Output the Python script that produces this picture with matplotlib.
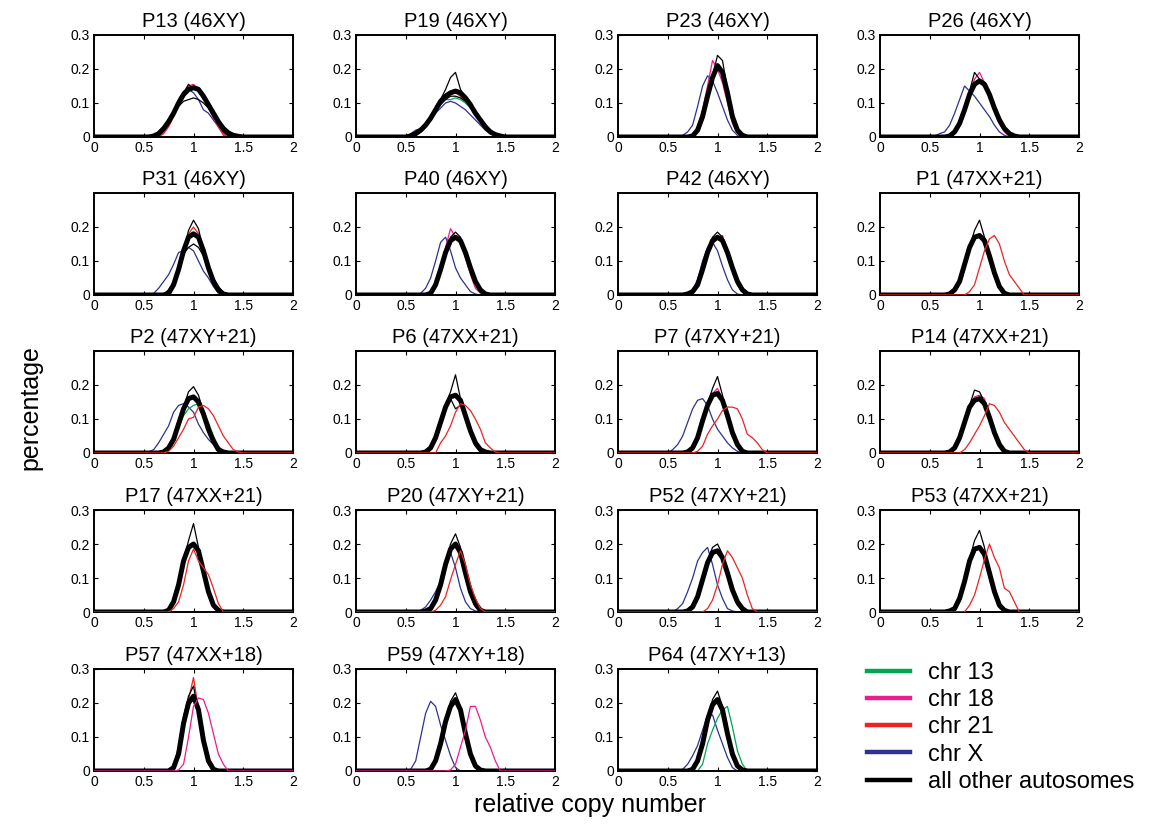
import matplotlib
matplotlib.use("Agg")
import matplotlib.pyplot as plt
from matplotlib.lines import Line2D

plt.rcParams['font.family'] = ['Liberation Sans', 'DejaVu Sans']

# bin centres of the copy-number histograms (values outside are zero)
XGRID = [0.50, 0.55, 0.60, 0.65, 0.70, 0.75, 0.80, 0.85, 0.90, 0.95, 1.00,
         1.05, 1.10, 1.15, 1.20, 1.25, 1.30, 1.35, 1.40, 1.45, 1.50]

TITLES = ["P13 (46XY)", "P19 (46XY)", "P23 (46XY)", "P26 (46XY)",
          "P31 (46XY)", "P40 (46XY)", "P42 (46XY)", "P1 (47XX+21)",
          "P2 (47XY+21)", "P6 (47XX+21)", "P7 (47XY+21)", "P14 (47XX+21)",
          "P17 (47XX+21)", "P20 (47XY+21)", "P52 (47XY+21)", "P53 (47XX+21)",
          "P57 (47XX+18)", "P59 (47XY+18)", "P64 (47XY+13)"]

# values in units of 0.01 (percentage per bin)
AUTO_MAIN = [
    [0, 0, 0.3, 1, 2.5, 4.5, 7, 10, 12.5, 14, 14.5, 14, 12, 9.5, 7, 4.5, 2.5, 1.2, 0.5, 0.2, 0],
    [0, 0.3, 1, 2, 3.5, 5.5, 8, 10.5, 12, 13, 13.5, 13, 11.5, 9.5, 7, 5, 3, 1.5, 0.7, 0.3, 0],
    [0, 0, 0, 0, 0, 0.3, 2, 6, 12, 17.5, 21, 19, 13, 6, 2, 0.5, 0, 0, 0, 0, 0],
    [0, 0, 0, 0, 0.3, 1.5, 4, 8, 12.5, 15.5, 16.5, 15.5, 12.5, 8.5, 5, 2.5, 1, 0.3, 0, 0, 0],
    [0, 0, 0, 0, 0, 0.5, 3, 7.5, 13, 17, 18, 17, 13, 8, 4, 1.5, 0.3, 0, 0, 0, 0],
    [0, 0, 0, 0, 0, 0.5, 3, 7.5, 12.5, 16, 17, 16, 12.5, 8, 4, 1.5, 0.3, 0, 0, 0, 0],
    [0, 0, 0, 0, 0.3, 1, 3, 7.5, 12.5, 16, 17, 16, 12.5, 8, 4, 1.5, 0.3, 0, 0, 0, 0],
    [0, 0, 0, 0, 0.3, 1.5, 4, 9, 14, 17, 17.5, 16, 11.5, 6.5, 2.5, 0.5, 0, 0, 0, 0, 0],
    [0, 0, 0, 0, 0.3, 1.5, 4, 8.5, 13, 16, 16.5, 15, 11.5, 7, 3.5, 1, 0.3, 0, 0, 0, 0],
    [0, 0, 0, 0, 0.3, 1.5, 4.5, 9, 13.5, 16.5, 17, 15.5, 11, 6.5, 3, 1, 0.3, 0, 0, 0, 0],
    [0, 0, 0, 0, 0.3, 1.5, 4.5, 9.5, 14, 17, 17.5, 15.5, 11, 6, 2.5, 0.5, 0, 0, 0, 0, 0],
    [0, 0, 0, 0, 0.3, 1.5, 4.5, 9, 13.5, 15.5, 16, 14.5, 10.5, 6, 2.5, 0.5, 0, 0, 0, 0, 0],
    [0, 0, 0, 0, 0, 0.5, 3, 8, 15, 19, 20, 18, 12, 6, 2, 0.5, 0, 0, 0, 0, 0],
    [0, 0, 0, 0, 0.3, 1, 3.5, 8, 14, 18.5, 20, 17.5, 11.5, 6, 2.5, 0.5, 0, 0, 0, 0, 0],
    [0, 0, 0, 0, 0.3, 1.5, 4.5, 9.5, 14.5, 17.5, 18, 16, 11.5, 6.5, 3, 1, 0, 0, 0, 0, 0],
    [0, 0, 0, 0, 0.3, 1, 4, 9, 15, 18.5, 19, 17, 11.5, 6, 2, 0.5, 0, 0, 0, 0, 0],
    [0, 0, 0, 0, 0, 0, 1, 5, 14, 20, 22, 18, 9, 3, 0.5, 0, 0, 0, 0, 0, 0],
    [0, 0, 0, 0, 0, 0.5, 3, 8, 14.5, 19, 21, 18, 11, 5, 1.5, 0.3, 0, 0, 0, 0, 0],
    [0, 0, 0, 0, 0, 0.5, 3, 8, 15, 19.5, 21, 18, 11, 5, 1.5, 0.3, 0, 0, 0, 0, 0],
]

AUTO_HIGH = [
    [0, 0, 0, 0.5, 2, 4, 7, 10.5, 13, 15.5, 14, 14.5, 12, 9, 6, 3.5, 1.5, 0.5, 0, 0, 0],
    [0, 0, 0.5, 1.5, 3, 5, 8, 11, 14, 17.5, 19, 14, 11, 9, 6.5, 4.5, 2.5, 1, 0.3, 0, 0],
    [0, 0, 0, 0, 0, 0, 1.5, 5.5, 11.5, 18, 24, 22.5, 14, 6, 1.5, 0, 0, 0, 0, 0, 0],
    [0, 0, 0, 0, 0, 1, 3.5, 8, 13.5, 19, 17, 16, 12, 8, 4.5, 2, 0.5, 0, 0, 0, 0],
    [0, 0, 0, 0, 0, 0.3, 2.5, 7, 13, 19, 22, 19.5, 13, 7, 3, 1, 0, 0, 0, 0, 0],
    [0, 0, 0, 0, 0, 0.3, 2.5, 7, 12.5, 17, 18.5, 17, 13, 7.5, 3.5, 1, 0, 0, 0, 0, 0],
    [0, 0, 0, 0, 0, 0.5, 2.5, 7, 13, 17, 18.5, 17, 12, 7, 3, 1, 0, 0, 0, 0, 0],
    [0, 0, 0, 0, 0, 1, 3.5, 8.5, 14, 19, 22, 17, 11, 5.5, 2, 0.5, 0, 0, 0, 0, 0],
    [0, 0, 0, 0, 0, 1, 3.5, 8, 13.5, 18, 19.5, 17, 12, 7, 3, 1, 0, 0, 0, 0, 0],
    [0, 0, 0, 0, 0, 1, 4, 8.5, 14, 18, 23, 16, 10, 5.5, 2, 0.5, 0, 0, 0, 0, 0],
    [0, 0, 0, 0, 0, 1, 4, 9, 14.5, 19, 22.5, 17, 11, 5.5, 2, 0.5, 0, 0, 0, 0, 0],
    [0, 0, 0, 0, 0, 1, 4, 9, 14, 18.5, 18, 15, 10, 5.5, 2, 0.5, 0, 0, 0, 0, 0],
    [0, 0, 0, 0, 0, 0.3, 2.5, 8, 15, 21, 26, 19, 11, 5, 1.5, 0, 0, 0, 0, 0, 0],
    [0, 0, 0, 0, 0, 0.5, 3, 7.5, 14, 20, 23, 19, 11, 5, 1.5, 0, 0, 0, 0, 0, 0],
    [0, 0, 0, 0, 0, 1, 4, 9, 15, 19, 20, 17, 11, 6, 2, 0.5, 0, 0, 0, 0, 0],
    [0, 0, 0, 0, 0, 0.5, 3, 8.5, 15.5, 21, 24, 19, 11, 5, 1.5, 0, 0, 0, 0, 0, 0],
    [0, 0, 0, 0, 0, 0, 1.5, 7, 16, 22, 25, 17, 8, 2, 0.3, 0, 0, 0, 0, 0, 0],
    [0, 0, 0, 0, 0, 0.3, 2.5, 7.5, 15, 20.5, 23, 19, 10, 4, 1, 0, 0, 0, 0, 0, 0],
    [0, 0, 0, 0, 0, 0.3, 2.5, 7.5, 15, 21, 23.5, 19, 10, 4, 1, 0, 0, 0, 0, 0, 0],
]

AUTO_LOW = [
    [0, 0, 0.5, 1.5, 3, 5, 7, 9, 10.5, 11, 11.5, 11, 10, 8.5, 6.5, 4.5, 3, 1.5, 0.5, 0, 0],
    [0, 0.5, 1.5, 2.5, 4, 6, 8, 9.5, 11, 12, 12, 11.5, 10.5, 9, 7.5, 5.5, 3.5, 2, 1, 0.3, 0],
    None, None,
    [0, 0, 0, 0, 0.3, 1.5, 4, 8, 12, 14, 15, 14, 11.5, 8, 5, 2.5, 0.8, 0, 0, 0, 0],
    None, None, None, None,
    [0, 0, 0, 0, 0, 1, 4, 9, 14, 16, 13, 14, 11.5, 7, 3, 1, 0, 0, 0, 0, 0],
    None, None, None, None, None, None, None, None, None,
]

CHR_X = [
    [0, 0, 0, 0.5, 2, 4.5, 7.5, 11, 13.5, 14, 13, 11, 8, 7, 5, 3, 1, 0.3, 0, 0, 0],
    [0.3, 1, 2, 2.5, 3.5, 5, 7, 8.5, 10, 10.5, 10, 9, 8, 6.5, 5, 3.5, 2, 1, 0.5, 0.2, 0],
    [0, 0, 0, 0.5, 1.5, 3.5, 9, 15, 18, 16.5, 13, 9, 5, 2, 0.5, 0, 0, 0, 0, 0, 0],
    [0, 0.3, 1, 1.5, 3.5, 7, 11, 15, 13.5, 12, 10, 8, 6, 3.5, 1.5, 0.5, 0, 0, 0, 0, 0],
    [0, 0, 0.5, 2, 4, 6, 9, 12.5, 13, 14, 13, 10, 7, 5, 2.5, 0.5, 0, 0, 0, 0, 0],
    [0, 0, 0, 0.5, 2, 5, 10, 15.5, 17, 13, 8, 5, 3, 1, 0.3, 0, 0, 0, 0, 0, 0],
    [0, 0, 0, 0, 0.5, 1.5, 4.5, 10, 14, 15.5, 13, 8.5, 4.5, 1.5, 0.3, 0, 0, 0, 0, 0, 0],
    None,
    [0, 0.3, 1, 3, 5.5, 8, 12, 14, 14.5, 13.5, 12, 8.5, 6, 4, 2.5, 1, 0.3, 0, 0, 0, 0],
    None,
    [0, 1, 2.5, 5, 9, 13, 15.5, 16, 14, 10, 7, 5, 3, 1.5, 0.5, 0, 0, 0, 0, 0, 0],
    None, None,
    [0, 0, 0, 0.5, 1.5, 3.5, 6, 9, 14, 17.5, 13, 7, 3, 1, 0.3, 0, 0, 0, 0, 0, 0],
    [0, 0, 1, 2.5, 6, 10, 15, 17.5, 19, 14, 8, 4, 1, 0.3, 0, 0, 0, 0, 0, 0, 0],
    None, None,
    [0, 0.5, 3, 10, 17, 20.5, 19, 13.5, 9, 4.5, 1, 0, 0, 0, 0, 0, 0, 0, 0, 0, 0],
    [0, 0, 0, 0.5, 2, 4.5, 7.5, 12, 16.5, 16.5, 12, 8, 4, 1, 0, 0, 0, 0, 0, 0, 0],
]

CHR13 = [None] * 19
CHR13[1] = [0, 0, 0.5, 1.5, 3, 5, 7.5, 10, 11, 11, 11.5, 11, 10, 8.5, 7, 5, 3, 2, 1, 0.3, 0]
CHR13[7] = [0, 0, 0, 0, 0, 1.5, 4.5, 10, 14, 16.5, 17, 15.5, 11, 6, 2, 0.5, 0, 0, 0, 0, 0]
CHR13[8] = [0, 0, 0, 0, 0, 1.5, 4, 8, 11, 13, 14, 14.5, 12, 9, 5, 2, 0.5, 0, 0, 0, 0]
CHR13[15] = [0, 0, 0, 0, 0.3, 1.5, 5, 10, 15, 18, 18.5, 16, 11, 5.5, 2, 0.5, 0, 0, 0, 0, 0]
CHR13[18] = [0, 0, 0, 0, 0, 0, 0, 2, 8, 12, 15.5, 18, 19, 13, 6, 2, 0, 0, 0, 0, 0]

CHR18 = [None] * 19
CHR18[0] = [0, 0, 0, 0, 1.5, 3.5, 6.5, 10, 13, 15, 15.5, 14, 11.5, 8.5, 5.5, 3, 1, 0, 0, 0, 0]
CHR18[2] = [0, 0, 0, 0, 0, 0.5, 3, 8, 15, 22.5, 20, 16, 10, 4, 1, 0, 0, 0, 0, 0, 0]
CHR18[3] = [0, 0, 0, 0, 0, 1, 3.5, 8, 13, 17, 19, 16, 12, 8, 4, 1.5, 0.3, 0, 0, 0, 0]
CHR18[5] = [0, 0, 0, 0, 0, 0.5, 3, 8, 14, 19.5, 17, 15, 11, 6, 2, 0.5, 0, 0, 0, 0, 0]
CHR18[10] = [0, 0, 0, 0, 0, 1, 4, 9, 14, 17.5, 19, 16, 11, 6, 2.5, 0.5, 0, 0, 0, 0, 0]
CHR18[11] = [0, 0, 0, 0, 0, 1, 4, 9, 14, 16.5, 17, 16, 11, 6, 2.5, 0.5, 0, 0, 0, 0, 0]
CHR18[16] = [0, 0, 0, 0, 0, 0, 0, 0.3, 2, 10, 19, 21.5, 21, 17, 11, 5, 2, 0, 0, 0, 0]
CHR18[17] = [0, 0, 0, 0, 0, 0, 0, 0, 0, 0.3, 2, 7, 12, 19, 19, 15, 10, 7, 3, 0, 0]

CHR21 = [None] * 19
CHR21[0] = [0, 0, 0, 0, 1, 3, 6, 9.5, 12.5, 14.5, 15, 14.5, 12, 9, 6, 3, 0.5, 0, 0, 0, 0]
CHR21[1] = [0, 0, 0.5, 1.5, 3, 5, 7.5, 10, 11.5, 12.5, 13, 12, 10.5, 9, 8, 5.5, 3, 1.5, 0.5, 0, 0]
CHR21[4] = [0, 0, 0, 0, 0, 0.3, 2.5, 7, 13, 18, 20, 18, 13, 7, 3, 0.5, 0, 0, 0, 0, 0]
CHR21[6] = [0, 0, 0, 0, 0, 0.5, 2.5, 7, 12, 15, 16.5, 17.5, 13, 8, 4, 1, 0, 0, 0, 0, 0]
CHR21[7] = [0, 0, 0, 0, 0, 0, 0, 0, 1, 3, 8, 13, 16.5, 17.5, 15, 10, 6, 4, 2, 0, 0]
CHR21[8] = [0, 0, 0, 0, 0, 0.5, 2, 4.5, 7, 10, 10.5, 13.5, 14, 13, 11, 8, 5, 3, 1, 0.3, 0]
CHR21[9] = [0, 0, 0, 0, 0, 0, 0, 3, 5, 8, 12, 14.5, 14, 12.5, 10, 7, 3, 1.5, 0.3, 0, 0]
CHR21[10] = [0, 0, 0, 0, 0, 0, 0.5, 2, 5.5, 8, 10, 12.5, 13.5, 13.5, 13, 10, 5.5, 4.5, 3, 1, 0]
CHR21[11] = [0, 0, 0, 0, 0, 0, 0, 1, 3, 5.5, 8, 11, 14.5, 14, 12, 9, 7, 5, 3, 1, 0]
CHR21[12] = [0, 0, 0, 0, 0, 0, 1, 3, 8, 15, 18.5, 15, 13, 11, 7, 2.5, 0, 0, 0, 0, 0]
CHR21[13] = [0, 0, 0, 0, 0, 0, 0.5, 2, 4.5, 9.5, 14, 18, 14, 8, 4, 1, 0, 0, 0, 0, 0]
CHR21[14] = [0, 0, 0, 0, 0, 0, 0, 0, 1, 3.5, 8, 14, 18, 16, 13, 10, 5, 1, 0, 0, 0]
CHR21[15] = [0, 0, 0, 0, 0, 0, 0, 0, 2, 5, 10, 15.5, 20, 16, 13, 7, 6, 3, 0, 0, 0]
CHR21[16] = [0, 0, 0, 0, 0, 0, 1, 5, 14, 21, 27.5, 18, 9, 3, 0.5, 0, 0, 0, 0, 0, 0]
CHR21[17] = [0, 0, 0, 0, 0, 0.5, 3.5, 9, 15.5, 19, 20, 17, 10, 4.5, 1, 0, 0, 0, 0, 0, 0]

GREEN = "#00a650"
MAGENTA = "#ec1c8c"
RED = "#ee2222"
BLUE = "#2e3192"

# trisomic chromosome drawn on top of the autosomes, others below
TRISOMY = {7: 21, 8: 21, 9: 21, 10: 21, 11: 21, 12: 21, 13: 21, 14: 21,
           15: 21, 16: 18, 17: 18, 18: 13}


def curve(vals):
    x = [0.0] + XGRID + [2.0]
    y = [0.0] + [v / 100 for v in vals] + [0.0]
    return x, y


fig = plt.figure(figsize=(11.5, 8.24), dpi=100)
W, H = 1150, 824
lefts = [94, 356, 618, 880]
bottoms = [137, 295, 453, 612, 771]
aw, ah = 199, 102

for i, title in enumerate(TITLES):
    r, c = divmod(i, 4)
    ax = fig.add_axes([lefts[c] / W, 1 - bottoms[r] / H, aw / W, ah / H])
    series = {13: (CHR13[i], GREEN), 18: (CHR18[i], MAGENTA), 21: (CHR21[i], RED)}
    tri = TRISOMY.get(i)

    if CHR_X[i] is not None:
        ax.plot(*curve(CHR_X[i]), color=BLUE, lw=0.9, zorder=2)
    for chrom, (vals, col) in series.items():
        if vals is not None and chrom != tri:
            ax.plot(*curve(vals), color=col, lw=0.9, zorder=2)

    ax.plot(*curve(AUTO_MAIN[i]), color="black", lw=3.6, zorder=3)
    ax.plot(*curve(AUTO_HIGH[i]), color="black", lw=0.9, zorder=3)
    if AUTO_LOW[i] is not None:
        ax.plot(*curve(AUTO_LOW[i]), color="black", lw=0.9, zorder=3)

    if tri is not None:
        vals, col = series[tri]
        z = 4 if tri != 13 else 2.5
        ax.plot(*curve(vals), color=col, lw=0.9, zorder=z)

    ax.set_xlim(0, 2)
    ax.set_ylim(0, 0.3)
    ax.set_xticks([0, 0.5, 1, 1.5, 2])
    ax.set_xticklabels(["0", "0.5", "1", "1.5", "2"])
    if r in (1, 2):
        ax.set_yticks([0, 0.1, 0.2])
        ax.set_yticklabels(["0", "0.1", "0.2"])
    else:
        ax.set_yticks([0, 0.1, 0.2, 0.3])
        ax.set_yticklabels(["0", "0.1", "0.2", "0.3"])
    ax.tick_params(direction="in", top=True, right=True, length=3, width=0.8,
                   labelsize=10, pad=3)
    for s in ax.spines.values():
        s.set_linewidth(1.4)
    ax.set_title(title, fontsize=14.5, pad=6)

handles = [Line2D([], [], color=GREEN, lw=3.2),
           Line2D([], [], color=MAGENTA, lw=3.2),
           Line2D([], [], color=RED, lw=3.2),
           Line2D([], [], color=BLUE, lw=3.2),
           Line2D([], [], color="black", lw=3.2)]
labels = ["chr 13", "chr 18", "chr 21", "chr X", "all other autosomes"]
fig.legend(handles, labels, loc="upper left", bbox_to_anchor=(867 / W, 1 - 662 / H),
           frameon=False, fontsize=17, handlelength=1.82, handletextpad=0.76,
           labelspacing=0.22, borderpad=0, borderaxespad=0)

fig.text(30 / W, 1 - 408 / H, "percentage", rotation=90, ha="center", va="center",
         fontsize=18)
fig.text(590 / W, 1 - 805 / H, "relative copy number", ha="center", va="center",
         fontsize=18)

fig.savefig("out.png", dpi=100)
